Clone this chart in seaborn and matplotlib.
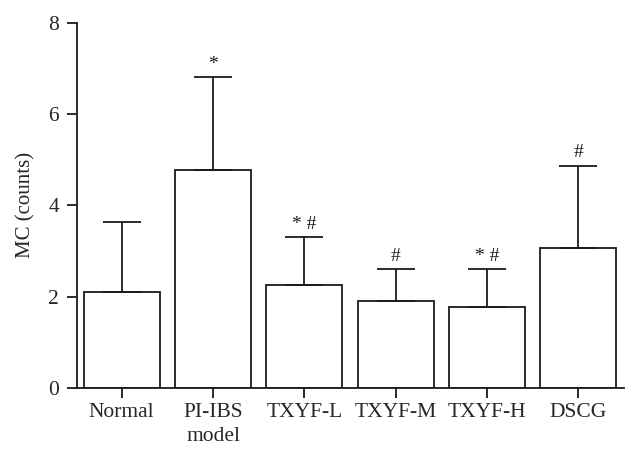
import numpy as np
import pandas as pd
import seaborn as sns
import matplotlib.pyplot as plt

groups = ['Normal', 'PI-IBS\nmodel', 'TXYF-L', 'TXYF-M', 'TXYF-H', 'DSCG']
means = [2.11, 4.77, 2.25, 1.91, 1.77, 3.07]
sds = [1.53, 2.04, 1.05, 0.69, 0.83, 1.80]
marks = ['', '*', '* #', '#', '* #', '#']

sns.set_style('ticks')
plt.rcParams['font.family'] = ['Liberation Serif', 'DejaVu Serif']

df = pd.DataFrame({'group': groups, 'mc': means})

fig = plt.figure(figsize=(6.39, 4.62), dpi=100)
ax = fig.add_axes([0.1205, 0.1608, 0.856, 0.7892])

sns.barplot(data=df, x='group', y='mc', color='white', edgecolor='#1a1a1a',
            linewidth=1.3, width=0.83, errorbar=None, ax=ax)

x = np.arange(len(groups))
ax.errorbar(x, means, yerr=[np.zeros(len(sds)), sds], fmt='none',
            ecolor='#1a1a1a', elinewidth=1.3, capsize=13.5, capthick=1.3, zorder=1)

for i, m in enumerate(marks):
    if m:
        ax.text(i, means[i] + sds[i] + 0.1, m, ha='center', va='bottom',
                fontsize=14, color='#1a1a1a')

ax.set_xlim(-0.49, 5.5)
ax.set_ylim(0, 8)
ax.set_yticks([0, 2, 4, 6, 8])
ax.set_xlabel('')
ax.set_ylabel('MC (counts)', fontsize=15, labelpad=9)
ax.tick_params(axis='both', labelsize=15.5, length=7, width=1.3, color='#1a1a1a')
ax.tick_params(axis='y', pad=6)
ax.tick_params(axis='x', pad=4)
for lab in ax.get_xticklabels():
    lab.set_linespacing(1.35)
for s in ['left', 'bottom']:
    ax.spines[s].set_linewidth(1.3)
    ax.spines[s].set_color('#1a1a1a')
sns.despine(ax=ax)

fig.savefig('out.png', dpi=100)
